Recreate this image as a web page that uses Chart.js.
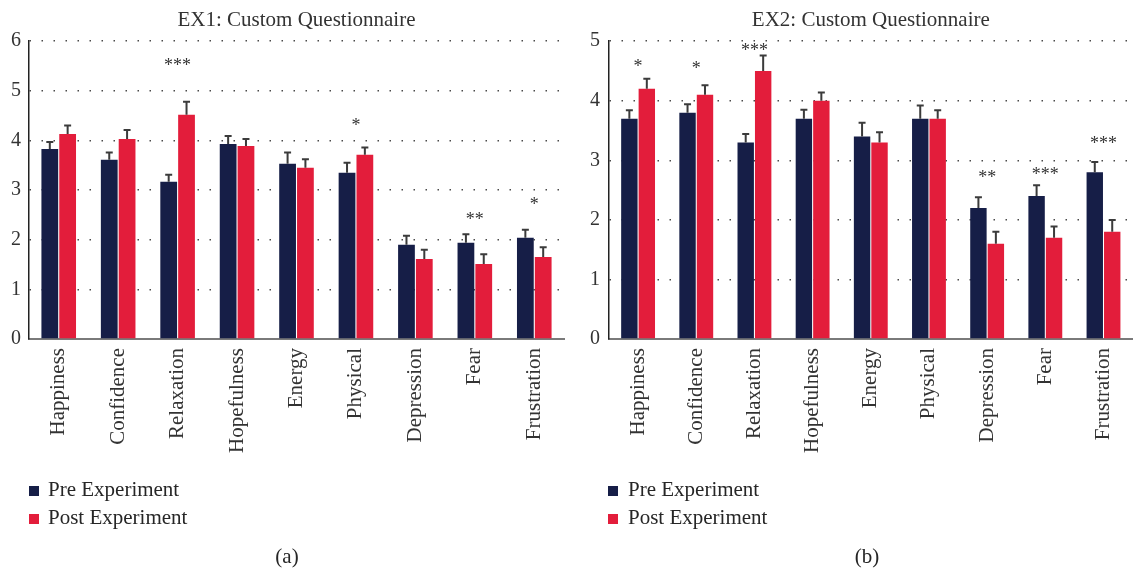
<!DOCTYPE html>
<html>
<head>
<meta charset="utf-8">
<title>Custom Questionnaire</title>
<script src="https://cdn.jsdelivr.net/npm/chart.js@4"></script>
<style>
  body { margin: 0; background: #fff; font-family: "Liberation Serif", serif; color: #262626; }
  #page { position: relative; width: 1138px; height: 572px; overflow: hidden; }
  .panel { position: absolute; top: 0; width: 569px; height: 572px; }
  .legend { position: absolute; top: 475px; font-size: 21px; line-height: 28px; white-space: nowrap; }
  .legend .box { display: inline-block; width: 10px; height: 10px; }
  .caption { position: absolute; top: 542px; width: 200px; text-align: center; font-size: 21px; line-height: 28px; }
</style>
</head>
<body>
<div id="page">
  <div class="panel" style="left:0"><canvas id="ex1"></canvas></div>
  <div class="panel" style="left:569px"><canvas id="ex2"></canvas></div>

  <div class="legend" style="left:29px">
    <div><span class="box" style="background:#161e47;margin-right:9px"></span>Pre Experiment</div>
    <div><span class="box" style="background:#e31d3b;margin-right:9px"></span>Post Experiment</div>
  </div>
  <div class="legend" style="left:608px">
    <div><span class="box" style="background:#161e47;margin-right:10px"></span>Pre Experiment</div>
    <div><span class="box" style="background:#e31d3b;margin-right:10px"></span>Post Experiment</div>
  </div>
  <div class="caption" style="left:187px">(a)</div>
  <div class="caption" style="left:767px">(b)</div>
</div>

<script>
const categories = ['Happiness', 'Confidence', 'Relaxation', 'Hopefulness', 'Energy',
                    'Physical', 'Depression', 'Fear', 'Frustration'];

// EX1 means and standard errors
const pre1     = [3.83, 3.61, 3.17, 3.93, 3.53, 3.35, 1.90, 1.94, 2.04];
const pre1Err  = [0.14, 0.15, 0.14, 0.16, 0.23, 0.20, 0.18, 0.17, 0.16];
const post1    = [4.13, 4.03, 4.52, 3.89, 3.45, 3.71, 1.61, 1.51, 1.65];
const post1Err = [0.17, 0.18, 0.26, 0.14, 0.17, 0.15, 0.19, 0.20, 0.20];
const sig1     = ['', '', '***', '', '', '*', '', '**', '*'];
const sig1At   = [0, 0, 5.56, 0, 0, 4.36, 0, 2.46, 2.76];

// EX2 means and standard errors
const pre2     = [3.7, 3.8, 3.3, 3.7, 3.4, 3.7, 2.2, 2.4, 2.8];
const pre2Err  = [0.14, 0.14, 0.14, 0.15, 0.23, 0.22, 0.18, 0.18, 0.17];
const post2    = [4.2, 4.1, 4.5, 4.0, 3.3, 3.7, 1.6, 1.7, 1.8];
const post2Err = [0.17, 0.16, 0.26, 0.14, 0.17, 0.14, 0.20, 0.19, 0.20];
const sig2     = ['*', '*', '***', '', '', '', '**', '***', '***'];
const sig2At   = [4.61, 4.59, 4.89, 0, 0, 0, 2.75, 2.81, 3.32];

const yTicks1 = [0, 1, 2, 3, 4, 5, 6];
const yTicks2 = [0, 1, 2, 3, 4, 5];

const PRE = '#161e47';
const POST = '#e31d3b';
const SERIF = '"Liberation Serif", "Times New Roman", serif';

// error bar stubs above each bar
const errorBars = {
  id: 'errorBars',
  afterDatasetsDraw(chart) {
    const ctx = chart.ctx;
    const y = chart.scales.y;
    ctx.save();
    ctx.strokeStyle = '#3b3b3b';
    ctx.lineWidth = 2;
    chart.data.datasets.forEach((ds, i) => {
      chart.getDatasetMeta(i).data.forEach((bar, j) => {
        const top = y.getPixelForValue(ds.data[j] + ds.errors[j]);
        ctx.beginPath();
        ctx.moveTo(bar.x, bar.y);
        ctx.lineTo(bar.x, top);
        ctx.moveTo(bar.x - 3.5, top);
        ctx.lineTo(bar.x + 3.5, top);
        ctx.stroke();
      });
    });
    ctx.restore();
  }
};

// significance asterisks over a category
const starMarks = {
  id: 'starMarks',
  afterDatasetsDraw(chart, args, opts) {
    const {ctx, scales: {x, y}} = chart;
    ctx.save();
    ctx.fillStyle = '#333';
    ctx.font = '18px ' + SERIF;
    ctx.textAlign = 'center';
    ctx.textBaseline = 'alphabetic';
    opts.marks.forEach((m, i) => {
      if (!m) return;
      ctx.fillText(m, x.getPixelForValue(i), y.getPixelForValue(opts.at[i]) + 8);
    });
    ctx.restore();
  }
};

function makeChart(id, title, pre, preErr, post, postErr, ticks, marks, at, axisWidth, tickPad, padRight) {
  return new Chart(document.getElementById(id), {
    type: 'bar',
    data: {
      labels: categories,
      datasets: [
        { label: 'Pre Experiment', data: pre, errors: preErr, backgroundColor: PRE },
        { label: 'Post Experiment', data: post, errors: postErr, backgroundColor: POST }
      ]
    },
    options: {
      responsive: true,
      maintainAspectRatio: false,
      animation: false,
      categoryPercentage: 0.6,
      barPercentage: 0.94,
      layout: { autoPadding: false, padding: { right: padRight } },
      plugins: {
        legend: { display: false },
        tooltip: { enabled: false },
        title: {
          display: true,
          text: title,
          fullSize: false,
          color: '#333',
          font: { family: SERIF, size: 21, weight: 'normal' },
          padding: { top: 8, bottom: 8 }
        },
        starMarks: { marks: marks, at: at }
      },
      scales: {
        x: {
          grid: { display: false, drawTicks: false },
          border: { display: true, color: '#7a7a7a', width: 2 },
          ticks: {
            autoSkip: false, minRotation: 90, maxRotation: 90, padding: 9,
            color: '#333', font: { family: SERIF, size: 21 }
          },
          afterFit(scale) { scale.height = 233; }
        },
        y: {
          min: ticks[0],
          max: ticks[ticks.length - 1],
          afterBuildTicks(scale) { scale.ticks = ticks.map(v => ({ value: v })); },
          grid: { color: '#4a4a4a', lineWidth: 1.5, drawTicks: false },
          border: { display: true, color: '#222', width: 1.5, dash: [1.5, 10.5] },
          ticks: { padding: tickPad, color: '#333', font: { family: SERIF, size: 20 } },
          afterFit(scale) { scale.width = axisWidth; }
        }
      }
    },
    plugins: [errorBars, starMarks]
  });
}

makeChart('ex1', 'EX1: Custom Questionnaire', pre1, pre1Err, post1, post1Err,
          yTicks1, sig1, sig1At, 29, 8, 5);
makeChart('ex2', 'EX2: Custom Questionnaire', pre2, pre2Err, post2, post2Err,
          yTicks2, sig2, sig2At, 40, 9, 0);
</script>
</body>
</html>
